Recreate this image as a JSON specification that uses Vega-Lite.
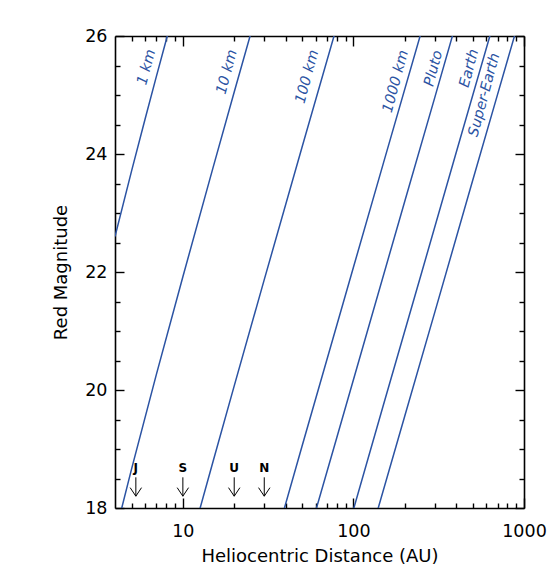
{
  "$schema": "https://vega.github.io/schema/vega-lite/v6.json",
  "width": 409,
  "height": 472,
  "autosize": {"type": "none"},
  "padding": {"left": 115, "top": 36, "right": 34, "bottom": 73},
  "config": {
    "font": "DejaVu Sans",
    "view": {"stroke": null},
    "axis": {"grid": false, "domainColor": "black", "domainWidth": 1.6, "tickColor": "black", "tickWidth": 1.4, "labelColor": "black", "titleColor": "black", "titleFontWeight": "normal", "labelFontSize": 17.5, "titleFontSize": 18, "labelFlush": false, "labelOverlap": false}
  },
  "datasets": {
    "lines": [
      {"name": "1 km", "r": 4, "m": 22.6}, {"name": "1 km", "r": 5, "m": 23.71}, {"name": "1 km", "r": 6, "m": 24.59}, {"name": "1 km", "r": 7, "m": 25.32}, {"name": "1 km", "r": 8, "m": 25.94}, {"name": "1 km", "r": 8.2, "m": 26.06},
      {"name": "10 km", "r": 4.2, "m": 17.79}, {"name": "10 km", "r": 5, "m": 18.66}, {"name": "10 km", "r": 7, "m": 20.27}, {"name": "10 km", "r": 10, "m": 21.92}, {"name": "10 km", "r": 15, "m": 23.76}, {"name": "10 km", "r": 20, "m": 25.05}, {"name": "10 km", "r": 25, "m": 26.04},
      {"name": "100 km", "r": 12, "m": 17.77}, {"name": "100 km", "r": 15, "m": 18.78}, {"name": "100 km", "r": 20, "m": 20.07}, {"name": "100 km", "r": 30, "m": 21.87}, {"name": "100 km", "r": 50, "m": 24.12}, {"name": "100 km", "r": 80, "m": 26.17},
      {"name": "1000 km", "r": 38, "m": 17.84}, {"name": "1000 km", "r": 50, "m": 19.05}, {"name": "1000 km", "r": 70, "m": 20.52}, {"name": "1000 km", "r": 100, "m": 22.08}, {"name": "1000 km", "r": 150, "m": 23.85}, {"name": "1000 km", "r": 250, "m": 26.07},
      {"name": "Pluto", "r": 58, "m": 17.8}, {"name": "Pluto", "r": 80, "m": 19.2}, {"name": "Pluto", "r": 120, "m": 20.97}, {"name": "Pluto", "r": 200, "m": 23.2}, {"name": "Pluto", "r": 300, "m": 24.96}, {"name": "Pluto", "r": 400, "m": 26.22},
      {"name": "Earth", "r": 95, "m": 17.75}, {"name": "Earth", "r": 150, "m": 19.75}, {"name": "Earth", "r": 250, "m": 21.97}, {"name": "Earth", "r": 400, "m": 24.02}, {"name": "Earth", "r": 650, "m": 26.13},
      {"name": "Super-Earth", "r": 135, "m": 17.85}, {"name": "Super-Earth", "r": 200, "m": 19.56}, {"name": "Super-Earth", "r": 300, "m": 21.32}, {"name": "Super-Earth", "r": 500, "m": 23.55}, {"name": "Super-Earth", "r": 700, "m": 25.01}, {"name": "Super-Earth", "r": 900, "m": 26.1}
    ],
    "labels": [
      {"label": "1 km", "r": 6.14, "m": 25.47},
      {"label": "10 km", "r": 18.2, "m": 25.39},
      {"label": "100 km", "r": 53.7, "m": 25.31},
      {"label": "1000 km", "r": 177.5, "m": 25.23},
      {"label": "Pluto", "r": 296, "m": 25.45},
      {"label": "Earth", "r": 479, "m": 25.45},
      {"label": "Super-Earth", "r": 587, "m": 25.0}
    ],
    "planets": [
      {"p": "J", "r": 5.3},
      {"p": "S", "r": 10},
      {"p": "U", "r": 20},
      {"p": "N", "r": 30}
    ]
  },
  "resolve": {"axis": {"x": "independent", "y": "independent"}},
  "layer": [
    {
      "data": {"name": "lines"},
      "mark": {"type": "line", "color": "#2b53a3", "strokeWidth": 1.5, "clip": true},
      "encoding": {
        "x": {"field": "r", "type": "quantitative", "scale": {"type": "log", "domain": [4, 1000], "nice": false},
          "axis": {"orient": "bottom", "title": "Heliocentric Distance (AU)", "values": [5,6,7,8,9,10,20,30,40,50,60,70,80,90,100,200,300,400,500,600,700,800,900,1000],
            "labelExpr": "(datum.value == 10 || datum.value == 100 || datum.value == 1000) ? format(datum.value, 'd') : ''",
            "tickSize": {"condition": {"test": "datum.value == 10 || datum.value == 100 || datum.value == 1000", "value": -10}, "value": -5},
            "labelPadding": 24, "titlePadding": 3}},
        "y": {"field": "m", "type": "quantitative", "scale": {"domain": [18, 26], "nice": false, "zero": false},
          "axis": {"orient": "left", "title": "Red Magnitude", "values": [18,18.5,19,19.5,20,20.5,21,21.5,22,22.5,23,23.5,24,24.5,25,25.5,26],
            "labelExpr": "datum.value % 2 == 0 ? format(datum.value, 'd') : ''",
            "tickSize": {"condition": {"test": "datum.value % 2 == 0", "value": -9}, "value": -5},
            "labelPadding": 17, "titlePadding": 14}},
        "detail": {"field": "name"}
      }
    },
    {
      "data": {"name": "labels"},
      "mark": {"type": "text", "angle": -75, "fontStyle": "italic", "fontSize": 14.5, "color": "#2b53a3", "align": "center", "baseline": "middle"},
      "encoding": {
        "x": {"field": "r", "type": "quantitative", "scale": {"type": "log", "domain": [4, 1000], "nice": false},
          "axis": {"orient": "top", "title": null, "labels": false, "values": [5,6,7,8,9,10,20,30,40,50,60,70,80,90,100,200,300,400,500,600,700,800,900,1000],
            "tickSize": {"condition": {"test": "datum.value == 10 || datum.value == 100 || datum.value == 1000", "value": -10}, "value": -5}}},
        "y": {"field": "m", "type": "quantitative", "scale": {"domain": [18, 26], "nice": false, "zero": false},
          "axis": {"orient": "right", "title": null, "labels": false, "values": [18,18.5,19,19.5,20,20.5,21,21.5,22,22.5,23,23.5,24,24.5,25,25.5,26],
            "tickSize": {"condition": {"test": "datum.value % 2 == 0", "value": -9}, "value": -5}}},
        "text": {"field": "label"}
      }
    },
    {
      "data": {"name": "planets"},
      "mark": {"type": "rule", "color": "black", "strokeWidth": 1},
      "encoding": {
        "x": {"field": "r", "type": "quantitative", "scale": {"type": "log", "domain": [4, 1000], "nice": false}, "axis": null},
        "y": {"datum": 18.52, "type": "quantitative", "scale": {"domain": [18, 26], "nice": false, "zero": false}, "axis": null},
        "y2": {"datum": 18.2}
      }
    },
    {
      "data": {"name": "planets"},
      "mark": {"type": "point", "shape": "M-1,-1.5L0,0L1,-1.5", "size": 130, "filled": false, "color": "black", "strokeWidth": 1, "opacity": 1},
      "encoding": {
        "x": {"field": "r", "type": "quantitative", "scale": {"type": "log", "domain": [4, 1000], "nice": false}, "axis": null},
        "y": {"datum": 18.2, "type": "quantitative", "scale": {"domain": [18, 26], "nice": false, "zero": false}, "axis": null}
      }
    },
    {
      "data": {"name": "planets"},
      "mark": {"type": "text", "fontSize": 12, "fontWeight": "bold", "color": "black", "align": "center", "baseline": "middle"},
      "encoding": {
        "x": {"field": "r", "type": "quantitative", "scale": {"type": "log", "domain": [4, 1000], "nice": false}, "axis": null},
        "y": {"datum": 18.68, "type": "quantitative", "scale": {"domain": [18, 26], "nice": false, "zero": false}, "axis": null},
        "text": {"field": "p"}
      }
    }
  ]
}
